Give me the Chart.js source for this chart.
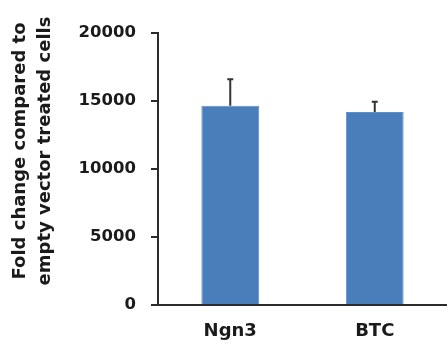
<!DOCTYPE html>
<html>
<head>
<meta charset="utf-8">
<script src="https://cdn.jsdelivr.net/npm/chart.js@4"></script>
<style>
  body { margin: 0; background: #fff; }
</style>
</head>
<body>
<canvas id="foldChart" width="447" height="345"></canvas>
<script>
// data
let categories = ["Ngn3", "BTC"];
let foldChange = [14650, 14200];
let errorUp = [1950, 750];
let yTicks = [0, 5000, 10000, 15000, 20000];
let yTitle = ["Fold change compared to", "empty vector treated cells"];

let axisColor = "#2b2b2b";
let textColor = "#1a1a1a";
let fontName = "'DejaVu Sans', sans-serif";

// upward error bars with a small cap
const errorBars = {
  id: "errorBars",
  afterDatasetsDraw(chart){
    let ctx = chart.ctx;
    let y = chart.scales.y;
    let meta = chart.getDatasetMeta(0);
    ctx.save();
    ctx.strokeStyle = "#333";
    ctx.lineWidth = 2;
    meta.data.forEach((bar, i) => {
      let top = y.getPixelForValue(foldChange[i] + errorUp[i]);
      ctx.beginPath();
      ctx.moveTo(bar.x, bar.y);
      ctx.lineTo(bar.x, top);
      ctx.moveTo(bar.x - 3, top);
      ctx.lineTo(bar.x + 3, top);
      ctx.stroke();
    });
    ctx.restore();
  }
};

// two-line rotated y title, placed like the original
const sideTitle = {
  id: "sideTitle",
  afterDraw(chart){
    let ctx = chart.ctx;
    ctx.save();
    ctx.fillStyle = textColor;
    ctx.font = "bold 18px " + fontName;
    ctx.textAlign = "center";
    ctx.textBaseline = "alphabetic";
    let xs = [25, 50];
    yTitle.forEach((line, i) => {
      ctx.save();
      ctx.translate(xs[i], 151);
      ctx.rotate(-Math.PI / 2);
      ctx.fillText(line, 0, 0);
      ctx.restore();
    });
    ctx.restore();
  }
};

new Chart(document.getElementById("foldChart"), {
  type: "bar",
  data: {
    labels: categories,
    datasets: [{
      data: foldChange,
      backgroundColor: "#4a7ebb",
      borderColor: "#5b8fd0",
      borderWidth: 1,
      barPercentage: 0.4,
      categoryPercentage: 1
    }]
  },
  options: {
    responsive: false,
    animation: false,
    layout: { padding: { top: 33, left: 0, right: 0, bottom: 0 } },
    plugins: {
      legend: { display: false },
      tooltip: { enabled: false }
    },
    scales: {
      x: {
        afterFit(scale){ scale.height = 40; },
        grid: { display: false, drawTicks: false },
        border: { display: true, color: axisColor, width: 2 },
        ticks: {
          color: textColor,
          padding: 16,
          font: { family: fontName, size: 18, weight: "bold" }
        }
      },
      y: {
        min: 0,
        max: 20000,
        afterFit(scale){ scale.width = 158; },
        afterBuildTicks(scale){ scale.ticks = yTicks.map(v => ({ value: v })); },
        grid: { drawOnChartArea: false, drawTicks: true, tickLength: 7, color: axisColor, lineWidth: 2 },
        border: { display: true, color: axisColor, width: 2 },
        ticks: {
          color: textColor,
          padding: 15,
          font: { family: fontName, size: 16.5, weight: "bold" },
          callback: v => String(v)
        }
      }
    }
  },
  plugins: [errorBars, sideTitle]
});
</script>
</body>
</html>
